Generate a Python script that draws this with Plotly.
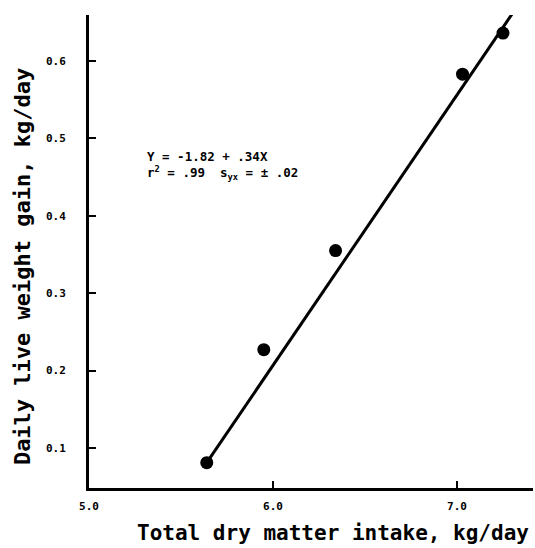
import plotly.graph_objects as go

# Observed data points
intake = [5.64, 5.95, 6.34, 7.03, 7.25]
gain = [0.081, 0.227, 0.355, 0.583, 0.636]

# Fitted regression line (as drawn)
line_x = [5.64, 7.30]
line_y = [0.081, 0.661]

x_ticks = [5.0, 6.0, 7.0]
x_tick_text = ["5.0", "6.0", "7.0"]
y_ticks = [0.1, 0.2, 0.3, 0.4, 0.5, 0.6]
y_tick_text = ["0.1", "0.2", "0.3", "0.4", "0.5", "0.6"]

FONT = "DejaVu Sans Mono"

fig = go.Figure()
fig.add_trace(go.Scatter(x=line_x, y=line_y, mode="lines",
                         line=dict(color="black", width=3), showlegend=False))
fig.add_trace(go.Scatter(x=intake, y=gain, mode="markers",
                         marker=dict(color="black", size=13), showlegend=False))

fig.update_layout(
    width=535, height=548,
    margin=dict(l=89, r=2, t=15, b=60),
    paper_bgcolor="white", plot_bgcolor="white",
    font=dict(family=FONT, color="black"),
    xaxis=dict(range=[5.0, 7.413], showline=True, linecolor="black", linewidth=3,
               showgrid=False, zeroline=False, ticks="inside", ticklen=7, tickwidth=2,
               tickcolor="black", tickvals=x_ticks, ticktext=x_tick_text,
               tickfont=dict(family=FONT, size=11, weight="bold"), ticklabelstandoff=6),
    yaxis=dict(range=[0.0483, 0.6594], showline=True, linecolor="black", linewidth=3,
               showgrid=False, zeroline=False, ticks="inside", ticklen=7, tickwidth=2,
               tickcolor="black", tickvals=y_ticks, ticktext=y_tick_text,
               tickfont=dict(family=FONT, size=11, weight="bold"), ticklabelstandoff=18),
    annotations=[
        dict(text="<b>Total dry matter intake, kg/day</b>", xref="paper", yref="paper",
             x=0.55, y=-0.095, xanchor="center", yanchor="middle", showarrow=False,
             font=dict(family=FONT, size=21, color="black")),
        dict(text="<b>Daily live weight gain, kg/day</b>", xref="paper", yref="paper",
             x=-0.151, y=0.469, xanchor="center", yanchor="middle", showarrow=False,
             textangle=-90, font=dict(family=FONT, size=22, color="black")),
        dict(text="<b>Y = -1.82 + .34X<br>r<sup>2</sup> = .99  s<sub>yx</sub> = ± .02</b>",
             xref="paper", yref="paper", x=0.126, y=0.681, xanchor="left", yanchor="middle",
             align="left", showarrow=False, font=dict(family=FONT, size=12.5, color="black")),
    ],
)

fig.write_html("out.html")
